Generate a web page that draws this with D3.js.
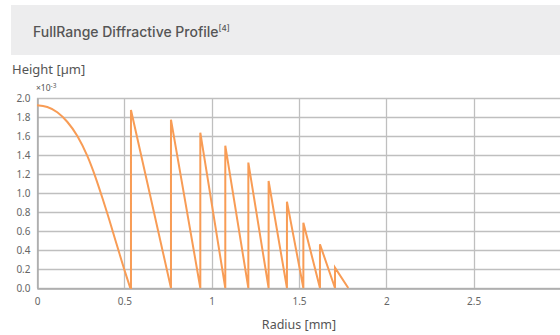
<!DOCTYPE html>
<html>
<head>
<meta charset="utf-8">
<script src="https://cdn.jsdelivr.net/npm/d3@7"></script>
<style>
  html, body { margin: 0; padding: 0; background: #fff; }
  svg { display: block; }
</style>
</head>
<body>
<svg id="chart" width="560" height="335"></svg>
<script>
// ---- data (height in units of 1e-3 µm, radius in mm) ----
const centerRadius = [0, 0.059, 0.116, 0.173, 0.231, 0.288, 0.336, 0.374, 0.400, 0.456, 0.504, 0.534];
const centerHeight = [1.923, 1.905, 1.85, 1.75, 1.60, 1.39, 1.16, 0.95, 0.80, 0.46, 0.17, 0];
const zoneEdges = [0.538, 0.767, 0.935, 1.078, 1.21, 1.326, 1.431, 1.525, 1.62, 1.706, 1.782];
const zonePeaks = [1.874, 1.772, 1.635, 1.498, 1.32, 1.126, 0.909, 0.688, 0.46, 0.214];
const xTicks = [0, 0.5, 1, 1.5, 2, 2.5];
const xTickLabels = ["0", "0.5", "1", "1.5", "2", "2.5"];
const yTicks = [0, 0.2, 0.4, 0.6, 0.8, 1.0, 1.2, 1.4, 1.6, 1.8, 2.0];

const svg = d3.select("#chart");
const x = d3.scaleLinear().domain([0, 3]).range([37, 561]);
const y = d3.scaleLinear().domain([0, 2]).range([288, 98]);
const px = v => Math.round(v) + 0.5;

// title banner
svg.append("rect").attr("x", 11).attr("y", 5).attr("width", 549).attr("height", 50).attr("fill", "#ededee");
const title = svg.append("text").attr("x", 33).attr("y", 37)
  .attr("font-family", "Inter, 'Noto Sans', sans-serif").attr("font-size", 14).attr("font-weight", 500).attr("fill", "#555");
title.append("tspan").text("FullRange Diffractive Profile");
title.append("tspan").text("[4]").attr("font-size", 8).attr("dy", -6);

// axis titles
svg.append("text").attr("x", 12).attr("y", 74).text("Height [µm]")
  .attr("font-family", "'Noto Sans', 'Open Sans', sans-serif").attr("font-size", 13).attr("fill", "#555");
const mult = svg.append("text").attr("x", 36).attr("y", 91)
  .attr("font-family", "'Noto Sans', 'Open Sans', sans-serif").attr("font-size", 8.5).attr("fill", "#555");
mult.append("tspan").text("×10");
mult.append("tspan").text("-3").attr("font-size", 6.5).attr("dy", -3);

svg.append("text").attr("x", 299).attr("y", 329).attr("text-anchor", "middle").text("Radius [mm]")
  .attr("font-family", "'Noto Sans', 'Open Sans', sans-serif").attr("font-size", 12.5).attr("fill", "#555");

// grid
const grid = svg.append("g");
grid.selectAll("line.h").data(yTicks).join("line")
  .attr("x1", x(0)).attr("x2", 560).attr("y1", d => px(y(d))).attr("y2", d => px(y(d)))
  .attr("stroke", "#bfbfbf").attr("stroke-width", 1.3);
grid.selectAll("line.v").data(xTicks).join("line")
  .attr("x1", d => px(x(d))).attr("x2", d => px(x(d))).attr("y1", y(2)).attr("y2", y(0))
  .attr("stroke", "#bfbfbf").attr("stroke-width", 1.3);

// axes
const yAxis = d3.axisLeft(y).tickValues(yTicks).tickFormat(d3.format(".1f")).tickSize(0).tickPadding(7);
const gy = svg.append("g").attr("transform", `translate(${px(x(0))},0)`).call(yAxis);
gy.select(".domain").attr("stroke", "#aaa").attr("stroke-width", 1.5);
gy.selectAll("text").attr("font-family", "'Noto Sans', 'Open Sans', sans-serif").attr("font-size", 10).attr("fill", "#666");

const xAxis = d3.axisBottom(x).tickValues(xTicks).tickFormat((d, i) => xTickLabels[i]).tickSize(0).tickPadding(9);
const gx = svg.append("g").attr("transform", `translate(0,${px(y(0))})`).call(xAxis);
gx.select(".domain").attr("stroke", "#aaa").attr("stroke-width", 1.5);
gx.selectAll("text").attr("font-family", "'Noto Sans', 'Open Sans', sans-serif").attr("font-size", 10).attr("fill", "#666");

// profile: smooth central zone
const centerPts = centerRadius.map((r, i) => [r, centerHeight[i]]);
const smooth = d3.line().x(d => x(d[0])).y(d => y(d[1])).curve(d3.curveMonotoneX);
svg.append("path").datum(centerPts).attr("d", smooth)
  .attr("fill", "none").attr("stroke", "#f89c55").attr("stroke-width", 2);

// sawtooth zones
const pts = [[centerRadius[centerRadius.length - 1], 0]];
for (let i = 0; i < zonePeaks.length; i++) {
  pts.push([zoneEdges[i], 0]);
  pts.push([zoneEdges[i], zonePeaks[i]]);
}
pts.push([zoneEdges[zoneEdges.length - 1], 0]);
const line = d3.line().x(d => x(d[0])).y(d => y(d[1]));
svg.append("path").datum(pts).attr("d", line)
  .attr("fill", "none").attr("stroke", "#f89c55").attr("stroke-width", 2).attr("stroke-linejoin", "miter");
</script>
</body>
</html>
